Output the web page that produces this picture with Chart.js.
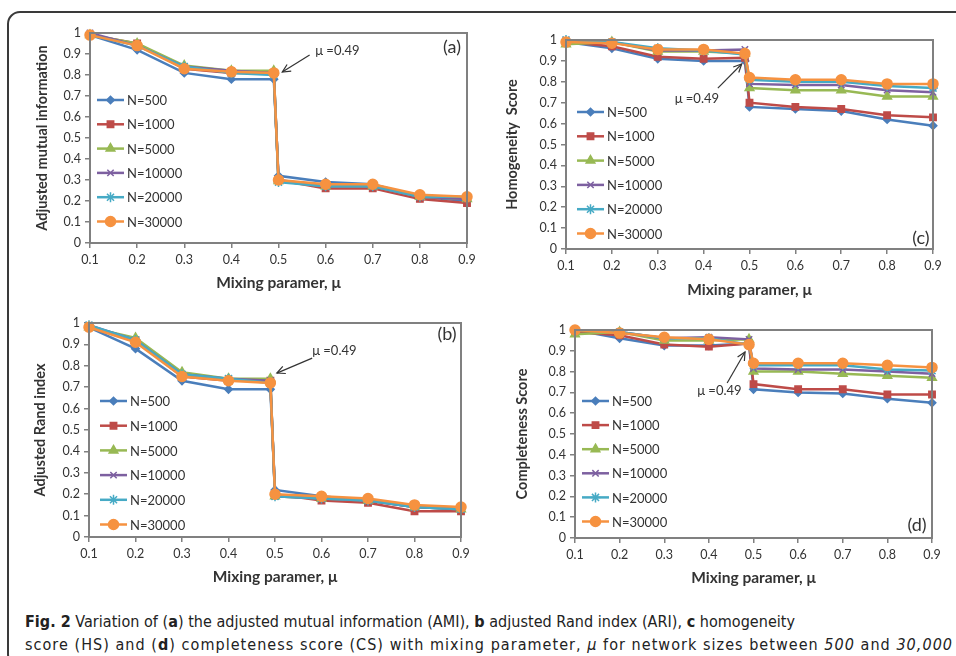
<!DOCTYPE html>
<html>
<head>
<meta charset="utf-8">
<script src="https://cdn.jsdelivr.net/npm/chart.js@4.4.0/dist/chart.umd.min.js"></script>
<style>
  body { margin: 0; width: 956px; height: 656px; overflow: hidden; background: #fff; position: relative; }
  #frame { position: absolute; left: 7px; top: 11px; width: 1000px; height: 652px; border: 2px solid #3a3a3a; border-radius: 13px; }
  canvas { position: absolute; }
  .cap { position: absolute; left: 25px; font-family: "Liberation Sans Narrow", "DejaVu Sans Condensed", sans-serif;
         font-size: 16px; line-height: 23px; color: #222; white-space: nowrap; }
</style>
</head>
<body>
<div id="frame"></div>
<div class="cap" id="cap1" style="top:610px" data-w="770"><b>Fig. 2</b> Variation of (<b>a</b>) the adjusted mutual information (AMI), <b>b</b> adjusted Rand index (ARI), <b>c</b> homogeneity</div>
<div class="cap" id="cap2" style="top:633px" data-w="928">score (HS) and (<b>d</b>) completeness score (CS) with mixing parameter, <i>μ</i> for network sizes between <i>500</i> and <i>30,000</i></div>
<script>
// --- data ---
const mu = [0.1, 0.2, 0.3, 0.4, 0.49, 0.5, 0.6, 0.7, 0.8, 0.9];
const seriesNames = ["N=500", "N=1000", "N=5000", "N=10000", "N=20000", "N=30000"];
const xTicks = [0.1, 0.2, 0.3, 0.4, 0.5, 0.6, 0.7, 0.8, 0.9];
const xTickLabels = ["0.1", "0.2", "0.3", "0.4", "0.5", "0.6", "0.7", "0.8", "0.9"];
const yTicks = [0, 0.1, 0.2, 0.3, 0.4, 0.5, 0.6, 0.7, 0.8, 0.9, 1];
const yTickLabels = ["0", "0.1", "0.2", "0.3", "0.4", "0.5", "0.6", "0.7", "0.8", "0.9", "1"];

// one row per network size, same order as seriesNames
const ami = [
  [0.99, 0.92, 0.81, 0.78, 0.78, 0.32, 0.29, 0.28, 0.22, 0.20],
  [0.99, 0.95, 0.83, 0.81, 0.81, 0.30, 0.26, 0.26, 0.21, 0.19],
  [0.99, 0.95, 0.845, 0.82, 0.82, 0.295, 0.27, 0.27, 0.22, 0.21],
  [1.00, 0.94, 0.84, 0.82, 0.81, 0.30, 0.27, 0.27, 0.22, 0.21],
  [0.99, 0.94, 0.84, 0.81, 0.80, 0.29, 0.27, 0.27, 0.22, 0.22],
  [0.99, 0.94, 0.83, 0.815, 0.81, 0.30, 0.28, 0.28, 0.23, 0.22]
];
const ari = [
  [0.98, 0.88, 0.73, 0.69, 0.69, 0.22, 0.19, 0.17, 0.14, 0.13],
  [0.98, 0.92, 0.75, 0.73, 0.73, 0.20, 0.17, 0.16, 0.12, 0.12],
  [0.98, 0.93, 0.77, 0.74, 0.74, 0.19, 0.18, 0.17, 0.14, 0.13],
  [0.99, 0.92, 0.76, 0.74, 0.73, 0.19, 0.18, 0.17, 0.14, 0.13],
  [0.99, 0.92, 0.76, 0.74, 0.72, 0.19, 0.18, 0.17, 0.14, 0.13],
  [0.98, 0.91, 0.75, 0.73, 0.72, 0.20, 0.19, 0.18, 0.15, 0.14]
];
const hs = [
  [0.99, 0.96, 0.91, 0.90, 0.90, 0.68, 0.67, 0.66, 0.62, 0.59],
  [0.99, 0.97, 0.92, 0.91, 0.915, 0.70, 0.68, 0.67, 0.64, 0.63],
  [0.98, 0.99, 0.945, 0.945, 0.935, 0.77, 0.76, 0.76, 0.73, 0.73],
  [1.00, 0.99, 0.95, 0.95, 0.955, 0.79, 0.785, 0.785, 0.76, 0.75],
  [1.00, 0.99, 0.96, 0.95, 0.93, 0.81, 0.80, 0.80, 0.78, 0.77],
  [0.99, 0.985, 0.955, 0.955, 0.935, 0.82, 0.81, 0.81, 0.79, 0.79]
];
const cs = [
  [1.00, 0.96, 0.925, 0.925, 0.935, 0.715, 0.70, 0.695, 0.67, 0.65],
  [0.99, 0.975, 0.93, 0.92, 0.935, 0.74, 0.715, 0.715, 0.69, 0.69],
  [0.98, 0.99, 0.95, 0.95, 0.955, 0.80, 0.80, 0.79, 0.78, 0.77],
  [1.00, 0.99, 0.96, 0.965, 0.955, 0.815, 0.81, 0.81, 0.80, 0.79],
  [1.00, 0.99, 0.96, 0.96, 0.93, 0.83, 0.83, 0.83, 0.81, 0.805],
  [1.00, 0.985, 0.965, 0.955, 0.93, 0.84, 0.84, 0.84, 0.83, 0.82]
];

// --- styles (Excel 2007 palette) ---
const colors = ["#4A7EBB", "#BE4B48", "#98B954", "#7D60A0", "#46AAC5", "#F69240"];
const markers = ["rectRot", "rect", "triangle", "crossRot", "star", "circle"];
const markerSize = [3.8, 4.5, 5, 4.5, 5, 5];

Chart.defaults.font.family = "Lato, 'Open Sans', sans-serif";
Chart.defaults.color = "#333";

// stretch each caption line to the width it has in the figure
document.querySelectorAll(".cap").forEach(el => {
  const target = +el.dataset.w;
  const n = el.textContent.length;
  const w = el.getBoundingClientRect().width;
  el.style.letterSpacing = ((target - w) / n).toFixed(3) + "px";
});

// gray frame around the plot area
const plotBox = {
  id: "plotBox",
  afterDraw(chart) {
    const a = chart.chartArea, c = chart.ctx;
    c.save();
    c.strokeStyle = "#808080";
    c.lineWidth = 2;
    c.strokeRect(a.left, a.top, a.right - a.left, a.bottom - a.top);
    c.restore();
  }
};

// legend inside the plot, drawn from the datasets
const seriesKey = {
  id: "seriesKey",
  afterDraw(chart, args, o) {
    const c = chart.ctx, a = chart.chartArea;
    c.save();
    c.font = "13px Lato";
    c.textBaseline = "middle";
    chart.data.datasets.forEach((ds, i) => {
      const x0 = a.left + o.dx, y = a.top + o.dy + i * o.step;
      c.strokeStyle = ds.borderColor;
      c.lineWidth = 2.5;
      c.beginPath(); c.moveTo(x0, y); c.lineTo(x0 + 27, y); c.stroke();
      c.fillStyle = ds.pointBackgroundColor;
      c.strokeStyle = ds.pointBorderColor;
      c.lineWidth = 1.5;
      Chart.helpers.drawPoint(c, { pointStyle: ds.pointStyle, radius: ds.pointRadius, borderWidth: 1.5, rotation: 0 }, x0 + 13.5, y);
      c.fillStyle = "#333";
      c.fillText(ds.label, x0 + 30, y + 1);
    });
    c.restore();
  }
};

// "mu = 0.49" arrow and panel letter
const notes = {
  id: "notes",
  afterDraw(chart, args, o) {
    const c = chart.ctx, xs = chart.scales.x, ys = chart.scales.y, a = chart.chartArea;
    const px = v => xs.getPixelForValue(v), py = v => ys.getPixelForValue(v);
    c.save();
    c.fillStyle = "#333";
    c.font = "13px Lato";
    c.textBaseline = "middle";
    c.fillText("μ =0.49", px(o.tx), py(o.ty));
    const x1 = px(o.tail[0]), y1 = py(o.tail[1]), x2 = px(o.tip[0]), y2 = py(o.tip[1]);
    c.strokeStyle = "#333";
    c.lineWidth = 1.2;
    c.beginPath(); c.moveTo(x1, y1); c.lineTo(x2, y2); c.stroke();
    const ang = Math.atan2(y2 - y1, x2 - x1);
    c.beginPath();
    c.moveTo(x2 - 9 * Math.cos(ang - 0.45), y2 - 9 * Math.sin(ang - 0.45));
    c.lineTo(x2, y2);
    c.lineTo(x2 - 9 * Math.cos(ang + 0.45), y2 - 9 * Math.sin(ang + 0.45));
    c.stroke();
    c.font = "18px Lato";
    c.textAlign = "center";
    c.fillText(o.letter, a.right + o.lx, o.ly < 0 ? a.bottom + o.ly : a.top + o.ly);
    c.restore();
  }
};

function makePanel(values, yTitle, box, key, note) {
  const cv = document.createElement("canvas");
  const left = box.titleX - 24, top = box.t - 14, right = box.r + 14, bottom = box.titleY + 16;
  cv.width = right - left; cv.height = bottom - top;
  cv.style.left = left + "px"; cv.style.top = top + "px";
  document.body.appendChild(cv);

  const datasets = values.map((row, i) => ({
    label: seriesNames[i],
    data: row.map((v, j) => ({ x: mu[j], y: v })),
    borderColor: colors[i],
    backgroundColor: colors[i],
    pointBackgroundColor: colors[i],
    pointBorderColor: colors[i],
    pointStyle: markers[i],
    pointRadius: markerSize[i],
    pointBorderWidth: 1.5,
    borderWidth: 2.5,
    tension: 0,
    clip: false,
    order: 5 - i
  }));

  new Chart(cv, {
    type: "line",
    data: { datasets },
    options: {
      responsive: false,
      animation: false,
      layout: { padding: { left: 0, top: 14, right: 14, bottom: 0 } },
      plugins: { legend: { display: false }, tooltip: { enabled: false }, seriesKey: key, notes: note },
      scales: {
        x: {
          type: "linear", min: 0.1, max: 0.9,
          afterBuildTicks: s => { s.ticks = xTicks.map(v => ({ value: v })); },
          afterFit: s => { s.height = bottom - box.b; },
          ticks: { callback: (v, i) => xTickLabels[i], font: { size: 12.5 }, padding: 4, autoSkip: false, maxRotation: 0 },
          grid: { drawOnChartArea: false, tickLength: 5, color: "#808080", lineWidth: 1.5 },
          border: { color: "#808080", width: 2 },
          title: { display: true, text: "Mixing paramer, μ", font: { size: 15.5, weight: "bold" }, padding: { top: 0, bottom: 7 } }
        },
        y: {
          min: 0, max: 1,
          afterBuildTicks: s => { s.ticks = yTicks.map(v => ({ value: v })); },
          afterFit: s => { s.width = box.l - left; },
          ticks: { callback: (v, i) => yTickLabels[i], font: { size: 12.5 }, padding: 4, autoSkip: false },
          grid: { drawOnChartArea: false, tickLength: 5, color: "#808080", lineWidth: 1.5 },
          border: { color: "#808080", width: 2 },
          title: { display: true, text: yTitle, font: { size: 14.5, weight: "bold" }, padding: { top: 15.3, bottom: 0 } }
        }
      }
    },
    plugins: [plotBox, seriesKey, notes]
  });
}

makePanel(ami, "Adjusted mutual information",
  { l: 90, t: 33, r: 467, b: 243, titleX: 42, titleY: 283 },
  { dx: 7, dy: 67, step: 24.3 },
  { tx: 0.578, ty: 0.914, tail: [0.566, 0.895], tip: [0.508, 0.814], letter: "(a)", lx: -15, ly: 14 });

makePanel(hs, "Homogeneity  Score",
  { l: 566, t: 40, r: 933, b: 249, titleX: 512, titleY: 290 },
  { dx: 11, dy: 72, step: 24.3 },
  { tx: 0.337, ty: 0.718, tail: [0.431, 0.770], tip: [0.483, 0.885], letter: "(c)", lx: -12, ly: -11 });

makePanel(ari, "Adjusted Rand index",
  { l: 89, t: 323, r: 461, b: 537, titleX: 40, titleY: 577 },
  { dx: 11, dy: 78, step: 24.7 },
  { tx: 0.58, ty: 0.869, tail: [0.58, 0.836], tip: [0.504, 0.766], letter: "(b)", lx: -14, ly: 11 });

makePanel(cs, "Completeness Score",
  { l: 575, t: 330, r: 932, b: 538, titleX: 522, titleY: 578 },
  { dx: 7, dy: 71, step: 24.1 },
  { tx: 0.374, ty: 0.707, tail: [0.441, 0.745], tip: [0.481, 0.894], letter: "(d)", lx: -15, ly: -13 });
</script>
</body>
</html>
